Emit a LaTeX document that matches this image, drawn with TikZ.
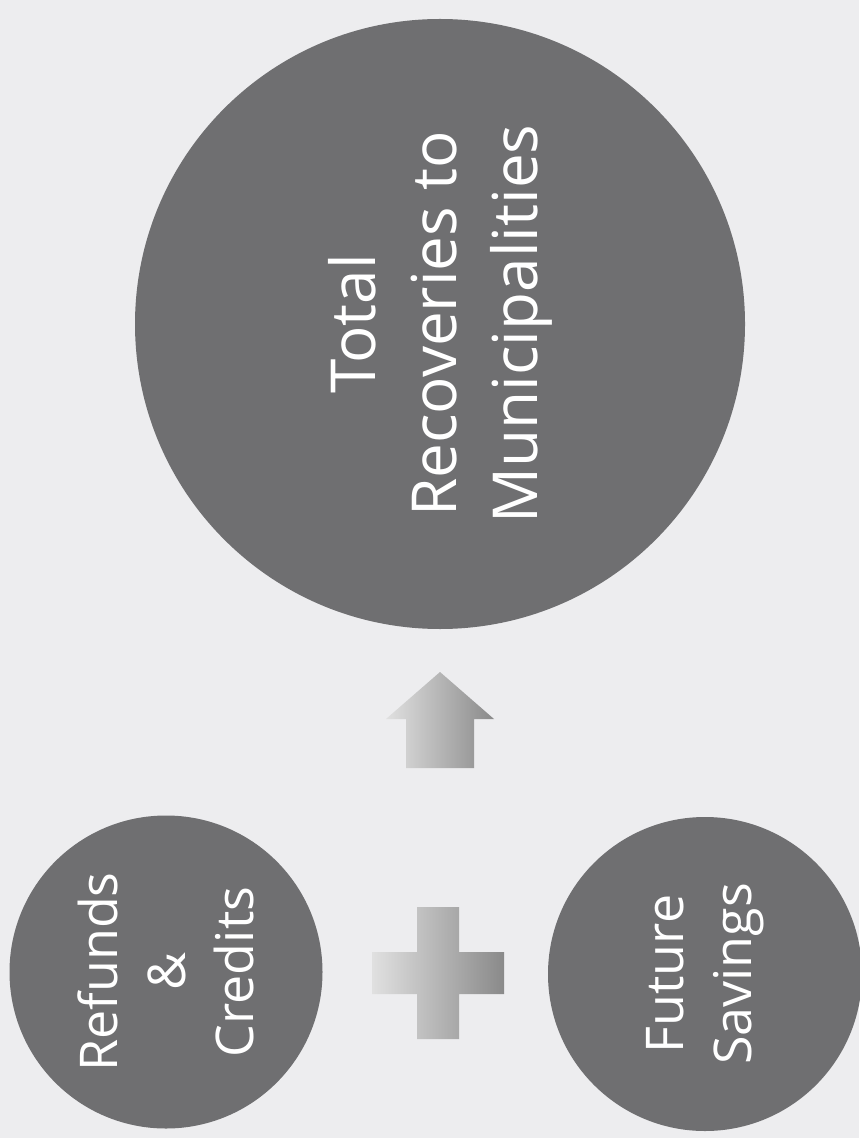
\documentclass[tikz,border=0pt]{standalone}
\usepackage{fontspec}
\setmainfont{Open Sans}
\definecolor{paper}{RGB}{237,237,239}
\definecolor{disc}{RGB}{111,111,113}
\tikzset{
  bubble/.style={circle, fill=disc, text=white, inner sep=0pt, align=center, rotate=90},
  bigtext/.style={font=\fontsize{31}{40.5}\selectfont},
  smalltext/.style={font=\fontsize{26}{34}\selectfont},
  softshade/.style={left color=black!12, right color=black!46}
}
\begin{document}
\begin{tikzpicture}[x=0.5pt, y=-0.5pt]
  \fill[paper] (0,0) rectangle (859,1138);
  \useasboundingbox (0,0) rectangle (859,1138);
  \node[bubble, bigtext, minimum size=305pt] (total) at (440,324)
    {Total\\Recoveries to\\Municipalities};
  \node[bubble, smalltext, minimum size=156.5pt] (refunds) at (166,972)
    {Refunds\\\&\\Credits};
  \node[bubble, smalltext, minimum size=157pt] (savings) at (705,974)
    {Future\\Savings};
  \shade[softshade] (406,768) --++ (0,-49) --++ (-20,0) --++ (54,-47)
                    --++ (54,47) --++ (-20,0) --++ (0,49) -- cycle;
  \shade[softshade] (417,907) --++ (42,0) --++ (0,45) --++ (45,0)
                    --++ (0,42) --++ (-45,0) --++ (0,45) --++ (-42,0)
                    --++ (0,-45) --++ (-45,0) --++ (0,-42) --++ (45,0) -- cycle;
\end{tikzpicture}
\end{document}
